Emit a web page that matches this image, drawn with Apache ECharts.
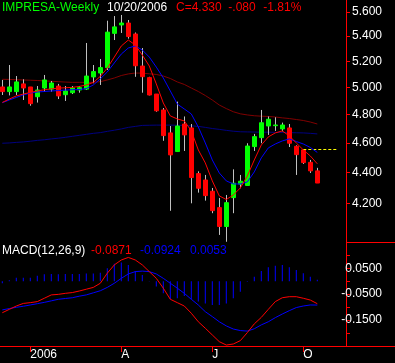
<!DOCTYPE html>
<html>
<head>
<meta charset="utf-8">
<script src="https://cdn.jsdelivr.net/npm/echarts@6/dist/echarts.min.js"></script>
<style>
html,body{margin:0;padding:0;background:#000;}
#chart{width:395px;height:363px;}
</style>
</head>
<body>
<div id="chart"></div>
<script>
// ---- data ----
const dates = ['2005-12-09','2005-12-16','2005-12-23','2005-12-30','2006-01-06','2006-01-13','2006-01-20','2006-01-27','2006-02-03','2006-02-10','2006-02-17','2006-02-24','2006-03-03','2006-03-10','2006-03-17','2006-03-24','2006-03-31','2006-04-07','2006-04-14','2006-04-21','2006-04-28','2006-05-05','2006-05-12','2006-05-19','2006-05-26','2006-06-02','2006-06-09','2006-06-16','2006-06-23','2006-06-30','2006-07-07','2006-07-14','2006-07-21','2006-07-28','2006-08-04','2006-08-11','2006-08-18','2006-08-25','2006-09-01','2006-09-08','2006-09-15','2006-09-22','2006-09-29','2006-10-06','2006-10-13','2006-10-20'];
const padDates = ['2006-10-27','2006-11-03','2006-11-10','2006-11-17','2006-11-24','2006-12-01','2006-12-08','2006-12-15','2006-12-22','2006-12-29','2007-01-05'];

const opens  = [5.003,4.968,4.968,5.026,5.003,4.930,4.995,4.987,5.010,4.945,4.960,4.980,4.987,5.079,5.109,5.151,5.423,5.492,5.508,5.418,5.163,5.074,4.950,4.833,4.669,4.540,4.732,4.704,4.392,4.350,4.277,4.173,4.056,4.236,4.323,4.314,4.574,4.636,4.718,4.720,4.697,4.704,4.576,4.551,4.467,4.410];
const closes = [4.968,5.003,5.041,4.995,4.879,4.980,5.056,5.033,4.936,4.973,4.995,4.998,5.086,5.120,5.151,5.433,5.476,5.508,5.397,5.165,5.081,4.943,4.827,4.650,4.517,4.718,4.655,4.366,4.296,4.249,4.154,4.056,4.204,4.329,4.342,4.578,4.643,4.741,4.766,4.725,4.725,4.597,4.519,4.465,4.410,4.330];
const lows   = [4.943,4.940,4.943,4.906,4.864,4.887,4.968,4.968,4.913,4.899,4.950,4.960,4.980,5.031,5.018,5.132,5.369,5.426,5.380,5.080,4.960,4.940,4.820,4.614,4.153,4.540,4.544,4.200,4.268,4.217,4.138,4.005,3.964,4.138,4.296,4.314,4.544,4.597,4.655,4.683,4.680,4.571,4.383,4.456,4.396,4.330];
const highs  = [5.056,5.171,5.086,5.061,5.003,5.010,5.094,5.048,5.026,5.010,5.010,5.010,5.345,5.171,5.218,5.527,5.566,5.575,5.533,5.430,5.305,5.080,4.950,4.847,4.718,4.894,4.786,4.732,4.407,4.383,4.298,4.234,4.253,4.420,4.383,4.597,4.662,4.833,4.786,4.780,4.742,4.732,4.583,4.551,4.483,4.430];

const maFast = [4.888,4.913,4.936,4.950,4.962,4.973,4.982,4.989,4.994,4.997,5.000,5.007,5.018,5.037,5.083,5.147,5.233,5.321,5.369,5.329,5.249,5.163,5.026,4.884,4.790,4.768,4.754,4.683,4.551,4.463,4.344,4.247,4.224,4.253,4.298,4.376,4.483,4.585,4.641,4.669,4.683,4.648,4.599,4.551,4.510,4.457];
const maMid  = [4.886,4.906,4.925,4.943,4.958,4.965,4.969,4.973,4.976,4.980,4.982,4.984,4.991,5.018,5.064,5.117,5.187,5.257,5.305,5.321,5.289,5.233,5.155,5.071,4.973,4.876,4.840,4.804,4.711,4.599,4.483,4.396,4.344,4.324,4.324,4.337,4.403,4.497,4.565,4.592,4.613,4.627,4.609,4.592,4.568,4.534];
const maSlow = [5.061,5.060,5.058,5.056,5.054,5.052,5.049,5.046,5.043,5.040,5.038,5.038,5.037,5.038,5.043,5.056,5.071,5.090,5.102,5.109,5.108,5.103,5.098,5.086,5.067,5.041,5.022,4.995,4.969,4.939,4.906,4.869,4.843,4.820,4.805,4.797,4.791,4.788,4.786,4.782,4.776,4.771,4.764,4.757,4.746,4.732];
const maLong = [4.597,4.599,4.603,4.606,4.611,4.617,4.621,4.627,4.632,4.638,4.645,4.652,4.659,4.666,4.671,4.680,4.688,4.697,4.708,4.715,4.722,4.723,4.724,4.724,4.724,4.723,4.722,4.719,4.715,4.708,4.700,4.694,4.687,4.681,4.677,4.676,4.675,4.674,4.674,4.673,4.672,4.671,4.670,4.669,4.666,4.662];

const macdLine = [-0.122,-0.109,-0.096,-0.086,-0.083,-0.079,-0.066,-0.053,-0.051,-0.047,-0.044,-0.038,-0.031,-0.024,-0.008,0.031,0.063,0.082,0.092,0.082,0.063,0.037,0.011,-0.027,-0.070,-0.083,-0.096,-0.124,-0.157,-0.182,-0.208,-0.234,-0.247,-0.243,-0.230,-0.199,-0.165,-0.140,-0.109,-0.079,-0.064,-0.060,-0.060,-0.066,-0.073,-0.0871];
const signalLine = [-0.111,-0.106,-0.101,-0.097,-0.092,-0.087,-0.082,-0.076,-0.070,-0.067,-0.064,-0.058,-0.053,-0.045,-0.037,-0.024,-0.008,0.011,0.028,0.037,0.039,0.037,0.028,0.011,-0.008,-0.027,-0.047,-0.070,-0.092,-0.118,-0.137,-0.157,-0.173,-0.185,-0.191,-0.193,-0.184,-0.169,-0.157,-0.141,-0.127,-0.114,-0.102,-0.096,-0.092,-0.0924];
const histValues = [-0.008,0.004,0.013,0.013,0.013,0.021,0.027,0.028,0.027,0.028,0.028,0.028,0.030,0.030,0.033,0.050,0.067,0.072,0.063,0.039,0.024,0.001,-0.021,-0.047,-0.070,-0.066,-0.057,-0.070,-0.079,-0.086,-0.092,-0.092,-0.086,-0.066,-0.041,-0.002,0.017,0.039,0.054,0.060,0.063,0.054,0.043,0.031,0.017,0.0053];

const priceTicks = [4.2,4.4,4.6,4.8,5.0,5.2,5.4,5.6];
const priceRange = [3.9626, 5.702];
const macdLabelTicks = [0.05,-0.05,-0.15];
const macdMinorTicks = [0.1,0.05,0,-0.05,-0.1,-0.15,-0.2];
const macdRange = [-0.2507, 0.1516];
const tickDates = ['2006-01-06','2006-04-07','2006-07-07','2006-10-06'];
const tickLabels = ['2006','A','J','O'];
const levelPrice = 4.555;
const levelFrom = '2006-10-06', levelTo = '2006-11-10';

const titleName = 'IMPRESA-Weekly', titleDate = '10/20/2006';
const quoteParts = ['C=4.330','-.080','-1.81%'];
const macdTitle = 'MACD(12,26,9)';
const macdValues = ['-0.0871','-0.0924','0.0053'];

// ---- build ----
const L = Math.log;
const cats = dates.concat(padDates);
const wickData = dates.map((d,i)=>[L(opens[i]),L(closes[i]),L(lows[i]),L(highs[i])]);
const bodyData = dates.map((d,i)=>[L(opens[i]),L(closes[i]),L(Math.min(opens[i],closes[i])),L(Math.max(opens[i],closes[i]))]);
const lg = a => a.map(L);
const FONT = '"Liberation Sans", Arial, sans-serif';
const RED = '#ff0000';
const tickFn = (idx, val) => tickDates.indexOf(val) >= 0;

function lineS(name, data, color, xi, yi, z){
  return {name, type:'line', data, xAxisIndex:xi, yAxisIndex:yi, symbol:'none', silent:true,
    lineStyle:{color, width:1}, z: z||3};
}

const chart = echarts.init(document.getElementById('chart'), null, {renderer:'canvas'});
chart.setOption({
  backgroundColor:'#000',
  animation:false,
  grid:[
    {left:-1.2, top:0, width:399, height:242, outerBoundsMode:'none', containLabel:false},
    {left:-1.2, top:242, width:399, height:104, outerBoundsMode:'none', containLabel:false}
  ],
  xAxis:[
    {type:'category', gridIndex:0, data:cats, boundaryGap:true, show:false},
    {type:'category', gridIndex:1, data:cats, boundaryGap:true, position:'bottom', show:true,
      axisLine:{show:true, onZero:false, lineStyle:{color:RED, width:1}},
      axisTick:{show:true, interval:tickFn, alignWithLabel:true, inside:false, length:6, lineStyle:{color:RED, width:1}},
      axisLabel:{show:true, interval:tickFn, align:'left', margin:3, color:'#fff', fontSize:12, fontFamily:FONT,
        formatter:(v)=>{const j=tickDates.indexOf(v);return j>=0?tickLabels[j]:'';}},
      splitLine:{show:false}}
  ],
  yAxis:[
    {type:'value', gridIndex:0, position:'right', offset:-51.8, min:L(priceRange[0]), max:L(priceRange[1]),
      axisLine:{show:true, onZero:false, lineStyle:{color:RED}},
      axisTick:{show:true, length:4, lineStyle:{color:RED}, customValues:priceTicks.map(L)},
      axisLabel:{show:true, customValues:priceTicks.map(L), align:'right', margin:36, color:'#fff', fontSize:12, fontFamily:FONT,
        formatter:(v)=>Math.exp(v).toFixed(3)},
      splitLine:{show:false}},
    {type:'value', gridIndex:1, position:'right', offset:-51.8, min:macdRange[0], max:macdRange[1],
      axisLine:{show:true, onZero:false, lineStyle:{color:RED}},
      axisTick:{show:true, length:4, lineStyle:{color:RED}, customValues:macdMinorTicks},
      axisLabel:{show:true, customValues:macdLabelTicks, align:'right', margin:36, color:'#fff', fontSize:12, fontFamily:FONT,
        formatter:(v)=>v.toFixed(4)},
      splitLine:{show:false}}
  ],
  series:[
    lineS('maLong', lg(maLong), '#000080', 0, 0, 2),
    lineS('maSlow', lg(maSlow), '#800000', 0, 0, 2),
    {name:'wick', type:'candlestick', xAxisIndex:0, yAxisIndex:0, data:wickData, barWidth:1, silent:true, z:3,
      itemStyle:{color:'#c0c0c0', color0:'#c0c0c0', borderColor:'#c0c0c0', borderColor0:'#c0c0c0', borderColorDoji:'#c0c0c0', borderWidth:1}},
    {name:'body', type:'candlestick', xAxisIndex:0, yAxisIndex:0, data:bodyData, barWidth:4, silent:true, z:4,
      itemStyle:{color:'#00ff00', color0:'#ff0000', borderColor:'#00ff00', borderColor0:'#ff0000', borderColorDoji:'#00ff00', borderWidth:1}},
    lineS('maMid', lg(maMid), '#0000ff', 0, 0, 5),
    lineS('maFast', lg(maFast), '#ff0000', 0, 0, 5),
    {name:'level', type:'line', xAxisIndex:0, yAxisIndex:0, data:[], silent:true, z:6,
      markLine:{silent:true, symbol:['none','none'], label:{show:false},
        lineStyle:{color:'#ffff00', width:1, type:[3,2]},
        data:[[{coord:[levelFrom, L(levelPrice)]},{coord:[levelTo, L(levelPrice)]}]]}},
    {name:'hist', type:'bar', xAxisIndex:1, yAxisIndex:1, data:histValues, barWidth:1, silent:true,
      itemStyle:{color:'#0000ff'}},
    lineS('signal', signalLine, '#0000ff', 1, 1, 5),
    lineS('macd', macdLine, '#ff0000', 1, 1, 5)
  ],
  graphic:[
    {type:'line', shape:{x1:346, y1:242.5, x2:395, y2:242.5}, style:{stroke:RED, lineWidth:1}, silent:true},
    {type:'text', x:2, y:8, style:{text:titleName, fill:'#00ff00', font:'12px '+FONT, verticalAlign:'middle'}},
    {type:'text', x:107, y:8, style:{text:titleDate, fill:'#ffffff', font:'12px '+FONT, verticalAlign:'middle'}},
    {type:'text', x:176, y:8, style:{text:quoteParts[0], fill:RED, font:'12px '+FONT, verticalAlign:'middle'}},
    {type:'text', x:228.3, y:8, style:{text:quoteParts[1], fill:RED, font:'12px '+FONT, verticalAlign:'middle'}},
    {type:'text', x:263.3, y:8, style:{text:quoteParts[2], fill:RED, font:'12px '+FONT, verticalAlign:'middle'}},
    {type:'text', x:2, y:250.5, style:{text:macdTitle, fill:'#ffffff', font:'12px '+FONT, verticalAlign:'middle'}},
    {type:'text', x:91, y:250.5, style:{text:macdValues[0], fill:RED, font:'12px '+FONT, verticalAlign:'middle'}},
    {type:'text', x:140, y:250.5, style:{text:macdValues[1], fill:'#0000ff', font:'12px '+FONT, verticalAlign:'middle'}},
    {type:'text', x:190, y:250.5, style:{text:macdValues[2], fill:'#0000ff', font:'12px '+FONT, verticalAlign:'middle'}}
  ]
});
</script>
</body>
</html>
